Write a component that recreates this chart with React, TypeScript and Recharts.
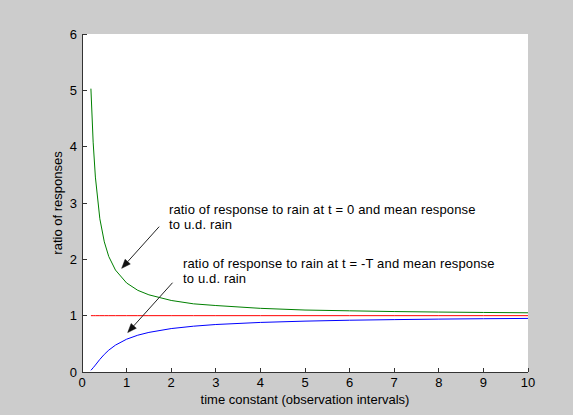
import React from 'react';
import { ComposedChart, Line, XAxis, YAxis, CartesianGrid, ReferenceLine } from 'recharts';

// time constant (observation intervals)
const timeConstant = [0.2, 0.25, 0.3, 0.4, 0.5, 0.6, 0.75, 1, 1.25, 1.5, 2, 2.5, 3, 4, 5, 6, 7, 8, 9, 10];
// ratio of response to rain at t = 0 and mean response to u.d. rain (green)
const ratioAtZero = [5.03, 4.08, 3.46, 2.72, 2.31, 2.05, 1.81, 1.58, 1.45, 1.37, 1.27, 1.21, 1.18, 1.13, 1.1, 1.086, 1.073, 1.064, 1.057, 1.051];
// ratio of response to rain at t = -T and mean response to u.d. rain (blue)
const ratioAtMinusT = [0.03, 0.075, 0.123, 0.224, 0.313, 0.388, 0.477, 0.582, 0.653, 0.703, 0.771, 0.813, 0.843, 0.88, 0.903, 0.919, 0.93, 0.939, 0.946, 0.951];
// unity reference (red)
const unityLevel = [1, 1, 1, 1, 1, 1, 1, 1, 1, 1, 1, 1, 1, 1, 1, 1, 1, 1, 1, 1];

const xTicks = [0, 1, 2, 3, 4, 5, 6, 7, 8, 9, 10];
const yTicks = [0, 1, 2, 3, 4, 5, 6];

const xTitle = 'time constant (observation intervals)';
const yTitle = 'ratio of responses';
const note1 = ['ratio of response to rain at t = 0 and mean response', 'to u.d. rain'];
const note2 = ['ratio of response to rain at t = -T and mean response', 'to u.d. rain'];
// arrows in data coordinates: [tailX, tailY, headX, headY]
const arrow1 = [1.73, 2.58, 0.89, 1.84];
const arrow2 = [2.03, 1.585, 1.025, 0.7];

const table = timeConstant.map((t, i) => ({ t, g: ratioAtZero[i], b: ratioAtMinusT[i], r: unityLevel[i] }));

const FONT = '"Liberation Sans", Arial, Helvetica, sans-serif';
const AXIS = '#333333';
const TL = 4.5;

const BottomTick = (p: any) => {
  const { x, y, payload } = p;
  return (
    <g>
      <line x1={x} x2={x} y1={y} y2={y - TL} stroke={AXIS} strokeWidth={1} shapeRendering="crispEdges" />
      <text x={x} y={y + 15} textAnchor="middle" fontSize={13} fontFamily={FONT} fill="#000">{payload.value}</text>
    </g>
  );
};
const LeftTick = (p: any) => {
  const { x, y, payload } = p;
  return (
    <g>
      <line x1={x} x2={x + TL} y1={y} y2={y} stroke={AXIS} strokeWidth={1} shapeRendering="crispEdges" />
      <text x={x - 5} y={y + 4.6} textAnchor="end" fontSize={13} fontFamily={FONT} fill="#000">{payload.value}</text>
    </g>
  );
};
const TopTick = (p: any) => {
  const { x, y } = p;
  return <line x1={x} x2={x} y1={y} y2={y + TL} stroke={AXIS} strokeWidth={1} shapeRendering="crispEdges" />;
};
const RightTick = (p: any) => {
  const { x, y } = p;
  return <line x1={x} x2={x - TL} y1={y} y2={y} stroke={AXIS} strokeWidth={1} shapeRendering="crispEdges" />;
};

const Arrow = (p: any) => {
  const { x1, y1, x2, y2 } = p;
  const dx = x2 - x1;
  const dy = y2 - y1;
  const len = Math.sqrt(dx * dx + dy * dy);
  const ux = dx / len;
  const uy = dy / len;
  const hl = 9;
  const hw = 3.5;
  const bx = x2 - ux * hl;
  const by = y2 - uy * hl;
  const pts = `${x2},${y2} ${bx - uy * hw},${by + ux * hw} ${bx + uy * hw},${by - ux * hw}`;
  return (
    <g>
      <line x1={x1} y1={y1} x2={bx} y2={by} stroke="#222" strokeWidth={1} />
      <polygon points={pts} fill="#111" stroke="#111" strokeWidth={0.5} />
    </g>
  );
};

export default function App() {
  const txt = { fontSize: 13, fontFamily: FONT, fill: '#000' } as any;
  const axisLine = { stroke: AXIS, shapeRendering: 'crispEdges' } as any;
  return (
    <div style={{ position: 'absolute', left: 0, top: 0, width: 573, height: 415, background: '#cccccc' }}>
      <ComposedChart width={573} height={415} data={table} margin={{ top: 34, right: 45, bottom: 0, left: 0 }}>
        <CartesianGrid fill="#ffffff" stroke="none" horizontal={false} vertical={false} />
        <XAxis dataKey="t" type="number" domain={[0, 10]} ticks={xTicks} interval={0} height={43}
          tickSize={0} tickMargin={0} tickLine={false} axisLine={axisLine} tick={<BottomTick />} allowDataOverflow />
        <XAxis xAxisId="top" orientation="top" type="number" domain={[0, 10]} ticks={xTicks} interval={0} height={0}
          tickSize={0} tickMargin={0} tickLine={false} axisLine={axisLine} tick={<TopTick />} allowDataOverflow />
        <YAxis type="number" domain={[0, 6]} ticks={yTicks} interval={0} width={82}
          tickSize={0} tickMargin={0} tickLine={false} axisLine={axisLine} tick={<LeftTick />} allowDataOverflow />
        <YAxis yAxisId="right" orientation="right" type="number" domain={[0, 6]} ticks={yTicks} interval={0} width={0}
          tickSize={0} tickMargin={0} tickLine={false} axisLine={axisLine} tick={<RightTick />} allowDataOverflow />
        <Line dataKey="r" type="linear" stroke="#ff0000" strokeWidth={1} dot={false} isAnimationActive={false} />
        <Line dataKey="g" type="linear" stroke="#008000" strokeWidth={1} dot={false} isAnimationActive={false} />
        <Line dataKey="b" type="linear" stroke="#0000ff" strokeWidth={1} dot={false} isAnimationActive={false} />
        <ReferenceLine segment={[{ x: arrow1[0], y: arrow1[1] }, { x: arrow1[2], y: arrow1[3] }]} shape={<Arrow />} />
        <ReferenceLine segment={[{ x: arrow2[0], y: arrow2[1] }, { x: arrow2[2], y: arrow2[3] }]} shape={<Arrow />} />
      </ComposedChart>
      <svg width={573} height={415} style={{ position: 'absolute', left: 0, top: 0, pointerEvents: 'none' }}>
        <text x={169} y={214} {...txt} letterSpacing={0.15}>{note1[0]}</text>
        <text x={169} y={229} {...txt} letterSpacing={0.15}>{note1[1]}</text>
        <text x={183} y={268} {...txt} letterSpacing={0.15}>{note2[0]}</text>
        <text x={183} y={283} {...txt} letterSpacing={0.15}>{note2[1]}</text>
        <text x={305} y={404} textAnchor="middle" {...txt}>{xTitle}</text>
        <text x={62} y={203} textAnchor="middle" transform="rotate(-90 62 203)" {...txt}>{yTitle}</text>
      </svg>
    </div>
  );
}
